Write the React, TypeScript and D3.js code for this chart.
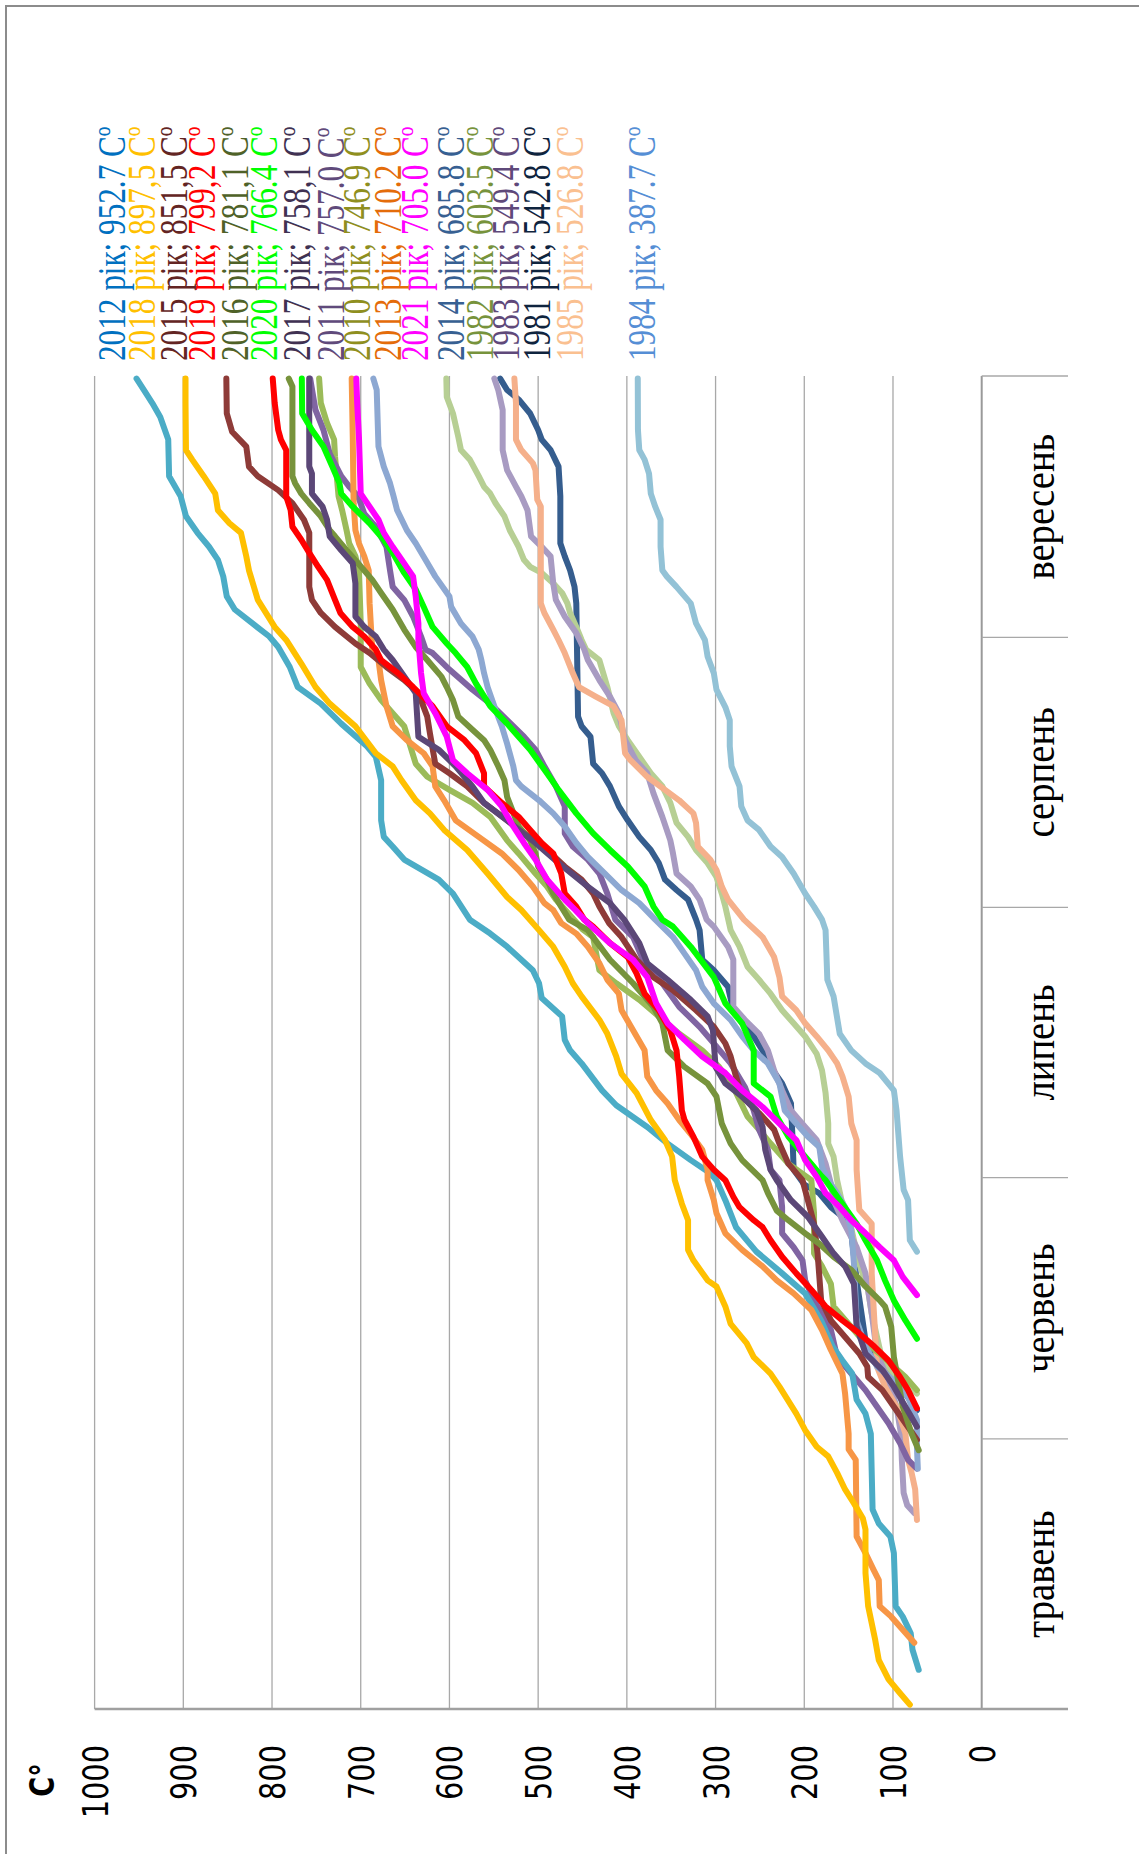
import React from 'react';
import * as d3 from 'd3';

// ---------- DATA ----------
const months = ['травень', 'червень', 'липень', 'серпень', 'вересень'];
const monthStartDays = [0, 31, 61, 92, 123, 153];
const valueTicks = [0, 100, 200, 300, 400, 500, 600, 700, 800, 900, 1000];
const axisTitle = 'C°';

// order of the data labels (top-right block)
const labelYears = ['2012', '2018', '2015', '2019', '2016', '2020', '2017', '2011', '2010', '2013', '2021', '2014', '1982', '1983', '1981', '1985', '1984'];
const labelTotals = ['952.7', '897,5', '851,5', '799,2', '781,1', '766.4', '758,1', '757.0', '746.9', '710.2', '705.0', '685.8', '603.5', '549.4', '542.8', '526.8', '387.7'];

// [day from 1 May, accumulated °C]
const s2012 = [[4.5,71],[6.8,78],[8.7,80],[10.6,89],[11.8,97],[17.9,99],[19.8,103],[21.3,116],[22.9,123],[31.6,125],[33.9,131],[35.5,141],[38.5,146],[40.0,157],[41.6,168],[44.6,181],[47.7,199],[50.0,225],[52.5,254],[55.3,277],[58.4,289],[60.7,299],[61.5,306],[63.0,328],[64.9,354],[66.8,377],[69.3,412],[71.0,428],[74.1,451],[75.6,464],[76.8,470],[79.5,473],[81.6,496],[83.3,499],[84.8,506],[87.5,535],[89.0,554],[90.6,577],[93.6,596],[95.2,612],[97.5,651],[99.0,664],[100.1,674],[102.0,677],[106.6,677],[109.3,683],[110.5,693],[113.1,722],[115.4,745],[117.3,771],[119.6,780],[121.9,793],[123.1,803],[124.6,822],[126.2,842],[127.7,851],[130.0,855],[131.9,861],[133.4,871],[135.0,884],[136.9,897],[139.2,903],[141.5,916],[145.7,917],[148.3,926],[149.9,935],[151.0,942],[152.7,952.7]];
const s2018 = [[0.5,81],[1.8,92],[3.4,105],[5.6,116],[7.9,120],[11.8,128],[15.6,131],[20.6,131],[21.9,134],[23.6,144],[25.2,154],[27.1,163],[29.0,173],[30.1,186],[32.0,199],[33.9,209],[37.0,228],[38.5,238],[40.4,257],[42.0,265],[44.2,283],[46.2,289],[48.5,299],[49.2,309],[51.5,325],[52.7,331],[56.1,331],[58.0,338],[60.7,346],[63.4,349],[65.3,357],[67.6,373],[70.7,389],[72.9,406],[74.9,412],[77.5,422],[79.1,431],[81.8,451],[83.3,461],[85.2,470],[87.5,483],[89.4,499],[91.7,519],[93.2,535],[95.9,557],[98.6,580],[100.9,606],[102.8,622],[104.3,638],[106.6,654],[108.2,664],[109.7,683],[112.8,706],[115.4,735],[117.3,751],[120.0,767],[122.7,784],[124.2,797],[127.3,816],[130.7,826],[132.3,829],[135.0,835],[136.1,848],[137.6,861],[139.5,864],[141.5,877],[143.4,890],[144.5,897],[149.9,897.5],[152.7,897.5]];
const s2015 = [[30.9,73],[32.8,86],[34.7,99],[36.6,112],[38.1,128],[39.3,129],[40.8,138],[42.7,154],[44.6,170],[46.9,181],[52.3,185],[55.7,189],[58.4,196],[60.7,202],[62.6,218],[64.9,228],[66.5,234],[68.4,251],[70.3,270],[72.6,277],[74.9,283],[76.4,289],[78.3,302],[80.2,322],[82.5,348],[84.0,370],[86.0,389],[88.6,406],[90.2,420],[92.1,431],[93.6,438],[95.2,451],[96.7,470],[98.6,490],[100.5,515],[102.0,535],[104.0,561],[105.9,580],[107.4,600],[108.5,616],[112.0,622],[113.9,625],[116.6,635],[118.1,651],[119.6,671],[121.2,690],[122.3,706],[124.2,729],[125.8,745],[127.3,755],[128.8,758],[135.0,758],[136.5,764],[138.4,777],[139.9,793],[141.5,816],[142.6,826],[144.9,829],[146.6,845],[148.7,851],[152.7,851.5]];
const s2019 = [[34.5,73],[36.6,83],[38.1,92],[40.0,105],[41.6,121],[43.1,138],[44.6,157],[46.2,176],[48.1,192],[50.0,209],[51.9,225],[53.8,238],[55.3,247],[56.1,257],[57.6,273],[58.8,280],[60.7,289],[61.9,302],[63.4,315],[65.7,325],[67.6,335],[68.7,338],[72.6,341],[75.6,344],[77.9,351],[80.2,364],[82.1,380],[84.4,389],[86.3,399],[87.9,419],[89.8,438],[90.6,448],[92.1,457],[93.6,470],[95.9,474],[98.2,483],[99.4,496],[100.9,509],[102.4,522],[104.0,541],[105.9,561],[107.4,561],[109.7,570],[111.2,583],[112.8,603],[115.1,619],[117.3,641],[118.9,658],[120.4,677],[121.6,683],[123.1,696],[124.2,709],[125.8,723],[127.3,729],[129.6,738],[131.1,748],[132.7,758],[134.2,767],[135.7,777],[137.6,779],[139.2,784],[144.5,784],[145.7,790],[146.8,793],[149.9,797],[152.7,799.2]];
const s2016 = [[29.7,71],[31.6,79],[34.7,89],[40.4,99],[43.9,102],[46.2,109],[46.9,115],[48.5,131],[50.4,147],[51.9,167],[53.4,183],[54.6,199],[56.1,218],[57.2,231],[59.2,241],[60.7,247],[63.0,270],[64.9,283],[67.2,293],[70.3,299],[71.8,309],[73.7,335],[75.6,354],[78.7,360],[80.6,370],[83.3,393],[86.0,419],[89.4,444],[90.6,465],[92.1,474],[93.6,483],[95.2,490],[96.7,500],[98.2,503],[99.7,509],[101.3,522],[104.7,535],[106.6,538],[108.2,545],[110.1,554],[111.2,561],[112.4,574],[113.9,590],[115.8,596],[117.3,603],[118.5,609],[120.4,625],[121.9,638],[123.9,651],[126.2,664],[128.1,677],[129.6,687],[131.5,703],[133.0,716],[134.6,729],[135.3,735],[136.9,745],[138.4,758],[139.5,767],[140.7,774],[141.5,777],[151.8,777],[152.7,781.1]];
const s2020 = [[42.5,73],[44.6,86],[46.9,99],[49.2,109],[51.5,118],[53.8,131],[55.7,141],[58.4,160],[60.7,176],[61.1,180],[63.4,199],[65.7,218],[68.0,231],[70.3,238],[71.8,257],[75.6,257],[78.7,270],[81.0,289],[84.0,302],[87.5,328],[89.8,348],[90.6,360],[92.1,370],[94.4,380],[96.7,399],[98.6,419],[100.5,438],[102.8,457],[105.5,477],[107.4,490],[110.1,509],[111.6,522],[113.1,535],[115.1,554],[117.7,570],[119.6,580],[121.2,593],[122.3,603],[124.2,619],[126.5,629],[128.5,638],[130.4,651],[132.7,664],[134.2,674],[136.1,690],[138.0,709],[139.5,722],[140.7,724],[142.6,732],[144.9,742],[146.8,755],[148.7,766],[152.7,766.4]];
const s2017 = [[32.4,73],[34.7,86],[37.0,99],[38.9,112],[40.8,131],[43.9,141],[48.8,144],[50.8,154],[52.3,167],[54.2,180],[56.5,196],[58.4,215],[60.7,231],[61.9,238],[64.2,244],[66.8,247],[68.7,254],[70.3,270],[71.8,289],[73.7,300],[77.9,303],[79.5,309],[81.4,328],[83.7,354],[85.6,377],[87.9,386],[90.6,403],[92.5,419],[94.4,444],[97.1,477],[99.4,503],[102.0,535],[104.0,561],[105.9,574],[108.2,593],[110.1,612],[111.6,635],[116.6,638],[118.1,648],[120.4,664],[121.6,674],[123.1,683],[124.2,696],[125.4,706],[129.2,706],[131.5,709],[133.0,722],[134.6,735],[136.5,738],[138.0,743],[139.5,755],[141.8,755],[142.6,758],[152.7,758.1]];
const s2011 = [[27.6,73],[28.6,83],[30.5,92],[32.8,105],[34.7,118],[36.6,131],[38.5,147],[40.4,163],[43.5,170],[46.9,189],[49.2,199],[51.5,202],[53.0,212],[54.6,225],[57.6,225],[60.7,228],[61.9,238],[64.2,241],[66.5,251],[68.7,257],[71.4,267],[74.1,283],[76.4,302],[78.3,318],[80.6,341],[83.3,360],[85.6,380],[88.6,393],[90.6,413],[93.6,422],[95.9,431],[97.5,444],[99.0,461],[100.5,470],[103.6,470],[105.9,480],[108.2,493],[110.1,503],[111.6,516],[113.5,535],[115.4,554],[117.0,574],[119.3,600],[121.2,619],[121.6,627],[123.1,632],[125.4,641],[127.3,651],[128.8,664],[130.7,667],[133.4,671],[135.7,683],[137.2,696],[139.2,703],[140.3,713],[141.5,722],[144.1,735],[146.8,742],[149.1,751],[152.7,757.0]];
const s2010 = [[36.6,73],[38.1,86],[39.3,99],[40.8,115],[42.3,134],[44.2,150],[46.2,167],[48.8,170],[50.8,180],[52.3,189],[56.9,189],[60.7,192],[62.6,218],[64.9,238],[66.5,251],[68.0,264],[71.4,280],[73.7,296],[75.6,315],[77.5,341],[79.5,364],[81.4,386],[83.3,412],[84.8,431],[88.6,438],[89.5,450],[92.9,480],[94.4,490],[95.9,503],[98.2,522],[99.7,535],[102.4,554],[104.0,574],[105.5,600],[107.0,625],[108.5,638],[110.8,645],[112.8,651],[114.3,664],[115.8,677],[117.7,690],[119.6,700],[124.6,700],[130.7,702],[132.3,706],[133.8,713],[135.3,716],[137.6,721],[139.2,725],[143.8,729],[145.7,730],[147.6,738],[149.9,745],[152.7,746.9]];
const s2013 = [[7.6,76],[9.1,89],[10.6,102],[11.8,115],[14.8,116],[16.0,122],[17.9,131],[19.8,141],[28.6,142],[29.8,150],[31.6,150],[36.2,154],[38.5,157],[41.2,170],[43.5,180],[45.8,192],[47.7,212],[49.2,231],[50.8,247],[52.7,270],[54.6,289],[56.9,299],[58.4,302],[60.7,309],[61.9,309],[64.2,315],[66.0,328],[67.6,341],[69.5,354],[71.0,367],[72.6,377],[75.6,380],[77.9,393],[80.2,406],[82.1,409],[83.7,422],[85.6,431],[87.5,444],[89.0,457],[90.2,474],[91.7,483],[92.5,493],[94.4,506],[96.3,522],[98.2,541],[100.1,567],[102.0,593],[104.3,606],[105.9,616],[108.2,619],[109.7,629],[111.2,648],[112.8,664],[115.1,671],[118.1,677],[120.4,680],[121.6,687],[126.9,690],[130.7,691],[132.3,696],[133.8,702],[135.3,706],[138.4,708],[146.0,709],[152.7,710.2]];
const s2021 = [[47.5,73],[49.6,89],[51.5,99],[53.0,115],[54.6,131],[56.1,147],[57.6,160],[59.2,176],[61.1,186],[63.0,199],[65.3,209],[67.2,228],[69.1,247],[71.0,270],[73.0,289],[74.9,315],[76.8,335],[78.7,354],[81.0,367],[84.0,377],[86.0,393],[87.9,419],[90.2,444],[91.7,458],[92.9,470],[95.2,490],[97.5,503],[99.4,516],[101.3,528],[103.6,541],[105.5,557],[107.4,580],[108.9,596],[111.6,603],[114.3,616],[116.6,629],[118.9,632],[122.7,635],[124.6,635],[127.7,638],[130.0,641],[131.5,651],[133.4,664],[135.0,674],[136.5,680],[138.0,690],[139.5,700],[146.0,702],[149.9,704],[152.7,705.0]];
const s2014 = [[27.6,72],[30.1,73],[33.2,73],[35.8,83],[37.7,99],[39.3,118],[41.6,131],[44.6,141],[51.1,144],[55.0,147],[57.6,154],[59.2,163],[60.7,173],[62.2,180],[64.5,183],[65.7,196],[67.2,209],[68.7,222],[71.8,228],[74.1,241],[75.6,257],[77.2,270],[79.1,283],[81.0,302],[82.9,315],[84.8,322],[86.7,335],[88.6,348],[90.6,368],[92.5,386],[94.0,406],[95.9,425],[97.8,444],[99.4,457],[101.3,470],[102.8,483],[104.3,499],[105.9,519],[106.6,525],[108.2,528],[110.8,535],[112.8,541],[114.7,548],[117.3,557],[118.9,561],[120.4,564],[121.6,567],[123.1,574],[124.6,587],[126.5,598],[127.7,600],[130.0,616],[131.9,627],[133.8,638],[135.3,648],[137.6,659],[139.2,663],[140.7,667],[142.6,674],[144.9,680],[151.4,682],[152.7,685.8]];
const s1982 = [[36.2,73],[37.4,86],[38.5,99],[40.0,112],[42.7,118],[45.4,124],[48.1,128],[51.1,138],[53.8,144],[56.5,150],[58.4,158],[60.7,163],[63.4,167],[64.9,173],[67.2,173],[70.7,176],[73.3,180],[75.2,186],[77.2,199],[78.7,212],[80.2,225],[82.1,238],[83.7,251],[85.2,264],[87.5,273],[89.4,283],[92.1,289],[93.6,293],[95.5,299],[97.1,309],[98.6,322],[100.1,331],[101.7,344],[104.0,351],[105.9,360],[107.4,373],[109.3,386],[111.2,399],[112.8,409],[114.3,415],[117.3,422],[120.4,431],[121.6,446],[122.7,451],[124.2,457],[125.8,464],[126.9,467],[128.1,473],[129.2,483],[130.4,496],[131.1,509],[131.9,516],[133.4,522],[135.3,532],[136.9,538],[138.4,548],[139.5,554],[140.3,561],[141.5,567],[143.4,577],[144.5,587],[146.0,590],[148.7,596],[150.6,603],[152.7,603.5]];
const s1983 = [[22.5,76],[23.4,84],[24.8,88],[28.6,90],[31.6,91],[34.7,96],[37.7,105],[40.8,118],[45.4,124],[50.0,131],[53.0,141],[56.1,157],[58.4,167],[60.3,170],[62.6,176],[65.3,186],[66.8,199],[68.7,215],[71.0,225],[73.3,234],[75.6,241],[77.5,251],[79.1,267],[80.6,280],[86.0,280],[87.5,286],[89.8,302],[90.6,310],[92.9,318],[94.4,328],[95.9,344],[98.2,348],[99.7,351],[102.4,360],[105.1,370],[107.4,377],[108.9,390],[111.2,402],[114.3,409],[116.2,419],[118.1,431],[120.4,444],[121.6,448],[123.5,457],[125.4,470],[127.3,480],[129.2,483],[132.3,486],[133.4,496],[134.6,508],[137.6,512],[139.2,519],[140.3,525],[142.2,535],[144.5,540],[149.1,540],[151.4,545],[152.7,549.4]];
const s1981 = [[34.3,73],[36.2,86],[38.5,99],[40.0,115],[42.3,131],[49.2,141],[51.1,143],[54.6,147],[56.5,157],[57.6,170],[59.2,183],[60.2,200],[61.9,212],[64.9,213],[67.2,214],[69.5,215],[71.8,225],[73.7,238],[75.6,247],[77.2,257],[78.7,270],[80.2,280],[82.9,286],[84.8,302],[86.0,315],[89.4,318],[90.6,322],[92.9,331],[94.0,344],[95.2,357],[97.1,364],[98.6,373],[100.1,386],[102.0,399],[103.6,409],[105.9,419],[107.4,428],[108.5,438],[111.6,441],[112.8,451],[113.9,455],[126.9,457],[128.8,459],[130.7,464],[132.3,470],[133.8,475],[139.2,475],[142.6,477],[144.5,486],[145.7,496],[146.8,500],[148.7,509],[150.3,522],[151.4,535],[152.7,542.8]];
const s1985 = [[21.7,73],[25.2,75],[27.1,79],[28.6,83],[31.6,86],[34.7,96],[37.0,109],[39.3,118],[44.6,121],[50.0,124],[55.7,124],[57.3,138],[61.9,141],[65.3,141],[67.2,147],[70.3,150],[72.6,157],[74.1,163],[75.6,173],[77.2,186],[78.7,199],[80.2,209],[81.8,225],[84.0,228],[86.3,234],[88.6,247],[90.6,268],[92.9,286],[94.4,293],[96.3,299],[97.5,306],[99.0,320],[101.7,322],[102.8,325],[104.3,341],[105.5,357],[107.0,377],[108.9,396],[109.7,402],[113.5,406],[115.1,415],[116.2,435],[117.3,454],[118.9,461],[121.2,470],[122.7,477],[123.9,483],[125.8,493],[126.9,497],[138.0,497],[138.8,501],[142.2,503],[143.0,506],[144.5,519],[145.7,525],[149.9,525],[152.7,526.8]];
const s1984 = [[52.5,73],[53.8,81],[58.4,83],[59.6,88],[63.4,92],[68.7,96],[71.0,99],[73.0,115],[74.1,131],[75.6,147],[77.5,160],[81.8,167],[83.7,174],[89.4,176],[90.6,180],[92.1,189],[93.6,199],[95.9,212],[97.8,225],[99.0,238],[100.9,251],[102.0,264],[103.6,271],[105.9,273],[108.2,282],[110.5,284],[113.5,284],[115.0,289],[117.0,299],[118.9,302],[120.8,309],[122.7,312],[124.6,322],[126.9,328],[128.8,344],[130.0,355],[130.7,360],[133.4,362],[136.5,362],[138.0,368],[139.5,373],[141.8,375],[143.4,380],[144.5,386],[146.8,387.5],[152.7,387.7]];

const seriesByYear: Record<string, number[][]> = {
  '1981': s1981, '1982': s1982, '1983': s1983, '1984': s1984, '1985': s1985,
  '2010': s2010, '2011': s2011, '2012': s2012, '2013': s2013, '2014': s2014,
  '2015': s2015, '2016': s2016, '2017': s2017, '2018': s2018, '2019': s2019,
  '2020': s2020, '2021': s2021,
};
const drawOrder = ['1981', '1982', '1983', '1984', '1985', '2010', '2011', '2012', '2013', '2014', '2015', '2016', '2017', '2018', '2019', '2020', '2021'];

// ---------- STYLE ----------
const lineColors: Record<string, string> = {
  '2012': '#4BACC6', '2018': '#FFC000', '2015': '#8E3B38', '2019': '#FF0000',
  '2016': '#77933C', '2020': '#00FF00', '2017': '#5B4777', '2011': '#8064A2',
  '2010': '#9BBB59', '2013': '#F79646', '2021': '#FF00FF', '2014': '#8DA8D2',
  '1982': '#B7CF94', '1983': '#A89BC2', '1981': '#355D8E', '1985': '#F5B08B',
  '1984': '#93C2D6',
};
const labelColors: Record<string, string> = {
  '2012': '#0070C0', '2018': '#FFC000', '2015': '#632523', '2019': '#FF0000',
  '2016': '#4F6228', '2020': '#00FF00', '2017': '#403152', '2011': '#604A7B',
  '2010': '#8F8F1F', '2013': '#E46C0A', '2021': '#FF00FF', '2014': '#376092',
  '1982': '#77933C', '1983': '#5F497A', '1981': '#0F243E', '1985': '#FAC090',
  '1984': '#558ED5',
};
const labelCenters = [112, 142, 174, 202, 235, 264, 297, 331, 357, 388, 415, 451, 480, 506, 537, 570, 642];

const W = 1139;
const H = 1854;
const xLeft = 94.6;   // value 1000
const xZero = 981.7;  // value 0
const yTop = 376;     // day 153
const yBottom = 1709; // day 0
const xOuter = 1068;
const serif = "'Liberation Serif', 'Times New Roman', 'DejaVu Serif', serif";

export default function App() {
  const x = d3.scaleLinear().domain([0, 1000]).range([xZero, xLeft]);
  const y = d3.scaleLinear().domain([0, 153]).range([yBottom, yTop]);
  const line = d3.line<number[]>()
    .x((d) => x(d[1]))
    .y((d) => y(d[0]))
    .curve(d3.curveLinear);

  return (
    <svg width={W} height={H} viewBox={`0 0 ${W} ${H}`}
      style={{ position: 'absolute', left: 0, top: 0, background: '#fff' }}>
      <rect x={0} y={0} width={W} height={H} fill="#fff" />
      {/* outer frame */}
      <path d={`M6,${H} V6 H${W}`} fill="none" stroke="#8C8C8C" strokeWidth={2} />

      {/* value gridlines */}
      {valueTicks.filter((v) => v > 0).map((v) => (
        <line key={`g${v}`} x1={x(v)} x2={x(v)} y1={yTop} y2={yBottom} stroke="#A8A8A8" strokeWidth={1.3} />
      ))}
      {/* category axis line */}
      <line x1={xZero} x2={xZero} y1={yTop} y2={yBottom} stroke="#9A9A9A" strokeWidth={2} />
      {/* month separators */}
      {monthStartDays.slice(1).map((d) => (
        <line key={`m${d}`} x1={xZero} x2={xOuter} y1={y(d)} y2={y(d)} stroke="#A8A8A8" strokeWidth={1.3} />
      ))}
      {/* value axis line */}
      <line x1={xLeft} x2={xOuter} y1={yBottom} y2={yBottom} stroke="#A0A0A0" strokeWidth={2.5} />

      {/* tick labels */}
      {valueTicks.map((v) => (
        <text key={`t${v}`} transform={`translate(${x(v)},1745) rotate(-90) scale(0.8,1)`}
          textAnchor="end" dy="0.36em" fontFamily="DejaVu Sans" fontSize={36} fill="#000">{v}</text>
      ))}
      <text transform="translate(42,1780) rotate(-90) scale(0.8,1)" textAnchor="middle" dy="0.36em"
        fontFamily="DejaVu Sans" fontWeight="bold" fontSize={34} fill="#000">{axisTitle}</text>

      {/* month labels */}
      {months.map((m, i) => (
        <text key={m} transform={`translate(1054,${y((monthStartDays[i] + monthStartDays[i + 1]) / 2)}) rotate(-90) scale(0.86,1)`}
          textAnchor="middle" fontFamily={serif} fontSize={45} fill="#000">{m}</text>
      ))}

      {/* series lines */}
      {drawOrder.map((yr) => {
        const pts = [...seriesByYear[yr]].sort((a, b) => a[0] - b[0]);
        return (
          <path key={yr} d={line(pts) || ''} fill="none" stroke={lineColors[yr]} strokeWidth={6}
            strokeLinejoin="round" strokeLinecap="round" />
        );
      })}

      {/* data labels */}
      {labelYears.map((yr, i) => (
        <text key={`l${yr}`} transform={`translate(${labelCenters[i] + 13},361) rotate(-90) scale(0.78,1)`}
          textAnchor="start" fontFamily={serif} fontSize={40} fill={labelColors[yr]}>
          {`${yr} рік; ${labelTotals[i]} Cº`}
        </text>
      ))}
    </svg>
  );
}
